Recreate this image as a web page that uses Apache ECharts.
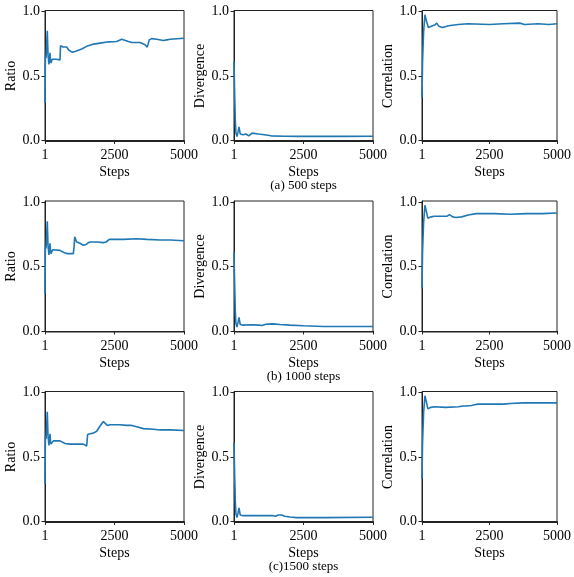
<!DOCTYPE html>
<html>
<head>
<meta charset="utf-8">
<script src="https://cdn.jsdelivr.net/npm/echarts@6/dist/echarts.min.js"></script>
<style>
html,body{margin:0;padding:0;background:#fff;}
#c{width:574px;height:577px;}
</style>
</head>
<body>
<div id="c"></div>
<script>
// ---- data: [step, value] ----
const xTicks = [1, 2500, 5000];
const yTicks = [0, 0.5, 1];
const yNames = ['Ratio', 'Divergence', 'Correlation'];
const captions = ['(a) 500 steps', '(b) 1000 steps', '(c)1500 steps'];

const ratioA = [[1,0.29],[15,0.66],[40,0.64],[83,0.85],[110,0.66],[144,0.59],[165,0.6],[180,0.68],[200,0.62],[216,0.6],[260,0.63],[400,0.63],[540,0.625],[560,0.735],[650,0.725],[780,0.725],[860,0.7],[980,0.685],[1080,0.69],[1200,0.7],[1320,0.71],[1500,0.73],[1700,0.745],[1980,0.755],[2300,0.765],[2580,0.767],[2760,0.785],[3000,0.767],[3120,0.76],[3420,0.76],[3600,0.742],[3680,0.724],[3750,0.78],[3840,0.79],[4020,0.785],[4260,0.775],[4320,0.765],[4380,0.78],[4500,0.785],[4560,0.793],[5000,0.793]];
const divA = [[1,0.61],[20,0.4],[47,0.16],[70,0.06],[108,0.03],[150,0.07],[180,0.105],[227,0.05],[325,0.044],[433,0.05],[530,0.036],[650,0.057],[865,0.05],[1100,0.044],[1335,0.036],[1800,0.033],[2300,0.032],[3000,0.032],[4000,0.032],[5000,0.033]];
const corA = [[1,0.33],[20,0.6],[36,0.7],[60,0.84],[82,0.9],[110,0.975],[160,0.93],[236,0.876],[300,0.885],[390,0.89],[470,0.895],[546,0.91],[628,0.885],[750,0.876],[985,0.89],[1340,0.9],[1700,0.905],[2500,0.9],[3000,0.905],[3620,0.91],[3800,0.9],[4300,0.905],[4700,0.9],[5000,0.905]];

const ratioB = [[1,0.29],[15,0.66],[40,0.64],[83,0.85],[110,0.66],[144,0.59],[165,0.6],[180,0.68],[200,0.62],[216,0.6],[276,0.63],[540,0.625],[660,0.61],[780,0.6],[1020,0.6],[1045,0.65],[1070,0.73],[1140,0.69],[1260,0.68],[1380,0.665],[1475,0.67],[1560,0.685],[1645,0.69],[1860,0.69],[2100,0.685],[2195,0.69],[2315,0.71],[2820,0.71],[3300,0.715],[3660,0.71],[4140,0.705],[4500,0.705],[5000,0.7]];
const divB = [[1,0.61],[20,0.4],[47,0.16],[70,0.06],[108,0.03],[150,0.07],[180,0.105],[227,0.05],[325,0.045],[600,0.048],[900,0.045],[1010,0.042],[1050,0.03],[1145,0.052],[1410,0.055],[1650,0.05],[2010,0.045],[2500,0.04],[3220,0.035],[5000,0.035]];
const corB = [[1,0.33],[20,0.6],[36,0.7],[60,0.84],[82,0.9],[110,0.975],[160,0.93],[216,0.875],[336,0.885],[455,0.89],[934,0.89],[1017,0.902],[1137,0.885],[1257,0.88],[1470,0.885],[1710,0.9],[2010,0.91],[2668,0.91],[3266,0.905],[3864,0.91],[4462,0.91],[5000,0.915]];

const ratioC = [[1,0.29],[15,0.66],[40,0.64],[83,0.85],[110,0.66],[144,0.59],[165,0.6],[180,0.68],[200,0.62],[216,0.6],[300,0.625],[540,0.625],[600,0.62],[720,0.605],[900,0.6],[1380,0.6],[1440,0.595],[1500,0.585],[1535,0.675],[1620,0.68],[1740,0.685],[1860,0.7],[1980,0.74],[2100,0.775],[2170,0.765],[2240,0.745],[2340,0.75],[2700,0.75],[2940,0.745],[3120,0.745],[3300,0.735],[3540,0.72],[3900,0.715],[4140,0.71],[4500,0.71],[5000,0.705]];
const divC = [[1,0.61],[20,0.4],[47,0.16],[70,0.06],[108,0.03],[150,0.07],[180,0.105],[227,0.05],[330,0.045],[1410,0.045],[1500,0.04],[1590,0.05],[1710,0.05],[1830,0.04],[2010,0.035],[2250,0.03],[3220,0.03],[5000,0.033]];
const corC = [[1,0.33],[20,0.6],[36,0.7],[60,0.84],[82,0.9],[110,0.975],[160,0.93],[216,0.875],[336,0.885],[455,0.89],[874,0.885],[1350,0.89],[1530,0.895],[1568,0.905],[1615,0.895],[1830,0.9],[1950,0.905],[2070,0.91],[3026,0.91],[3266,0.915],[3744,0.92],[5000,0.92]];

const panels = [
  [ratioA, divA, corA],
  [ratioB, divB, corB],
  [ratioC, divC, corC]
];

// ---- layout ----
const colLeft = [45, 234, 422];
const rowTop = [10.5, 201, 391.5];
const W = 139, H = 131;
const capY = [186, 377, 567];
const FONT = 'Liberation Serif';

const grid = [], xAxis = [], yAxis = [], series = [];
let k = 0;
for (let r = 0; r < 3; r++) {
  for (let c = 0; c < 3; c++) {
    grid.push({left: colLeft[c], top: rowTop[r], width: W, height: H,
      show: true, borderColor: '#222', borderWidth: 1, backgroundColor: 'transparent'});
    xAxis.push({type: 'value', gridIndex: k, min: 1, max: 5000,
      name: 'Steps', nameLocation: 'middle', nameGap: 24,
      nameTextStyle: {fontFamily: FONT, fontSize: 14, color: '#000'},
      axisLine: {show: true, lineStyle: {color: '#222', width: 1}},
      axisTick: {show: true, length: 3.5, lineStyle: {color: '#222'}, customValues: xTicks},
      axisLabel: {fontFamily: FONT, fontSize: 14, color: '#000', margin: 7, customValues: xTicks,
        showMinLabel: true, showMaxLabel: true, formatter: v => String(Math.round(v))},
      splitLine: {show: false}});
    yAxis.push({type: 'value', gridIndex: k, min: -0.008, max: 1.008,
      name: yNames[c], nameLocation: 'middle', nameGap: 25,
      nameTextStyle: {fontFamily: FONT, fontSize: 14, color: '#000'},
      axisLine: {show: true, lineStyle: {color: '#222', width: 1}},
      axisTick: {show: true, length: 3.5, lineStyle: {color: '#222'}, customValues: yTicks},
      axisLabel: {fontFamily: FONT, fontSize: 14, color: '#000', margin: 5, customValues: yTicks,
        formatter: v => v.toFixed(1)},
      splitLine: {show: false}});
    series.push({type: 'line', xAxisIndex: k, yAxisIndex: k, data: panels[r][c],
      showSymbol: false, symbol: 'none', lineStyle: {color: '#1f77b4', width: 1.6},
      animation: false});
    k++;
  }
}

const chart = echarts.init(document.getElementById('c'), null, {renderer: 'canvas'});
chart.setOption({
  animation: false,
  backgroundColor: '#fff',
  grid, xAxis, yAxis, series,
  graphic: captions.map((t, r) => ({type: 'text',
    style: {text: t, x: colLeft[1] + W / 2, y: capY[r], align: 'center', verticalAlign: 'middle',
      fontFamily: FONT, fontSize: 13, fill: '#000'}}))
});
</script>
</body>
</html>
